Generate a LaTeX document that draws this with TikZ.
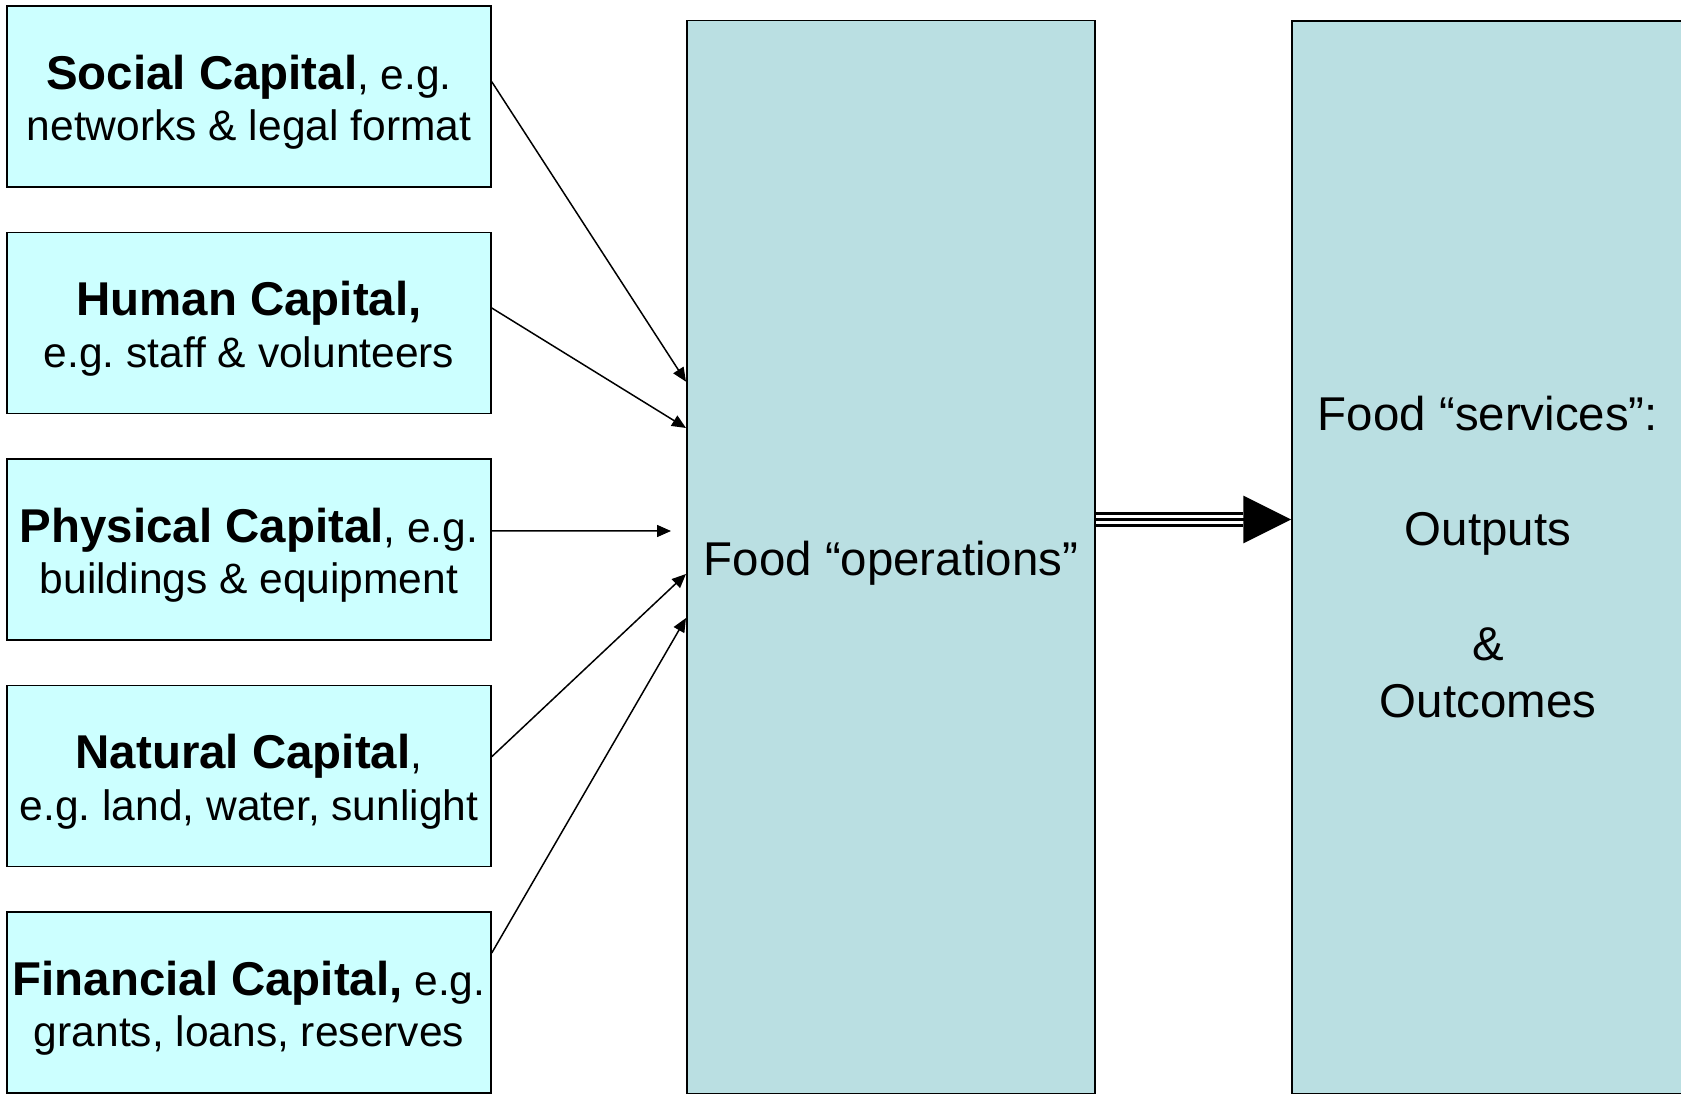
\documentclass[tikz,border=0pt]{standalone}
\usepackage{fontspec}
\setmainfont{Liberation Sans}
\usepackage{tikz}
\usetikzlibrary{arrows.meta,calc}
\frenchspacing
\definecolor{capfill}{HTML}{CCFFFF}
\definecolor{opsfill}{HTML}{BADFE2}
\newcommand{\capname}[1]{{\fontsize{27}{29.5}\selectfont\bfseries\rule{0pt}{26pt}#1}}
\tikzset{
capbox/.style={draw, line width=0.9pt, fill=capfill, minimum width=9.68cm, minimum height=3.62cm, inner sep=0pt, align=center, font=\fontsize{24.2}{29.5}\selectfont},
opsbox/.style={draw, line width=0.9pt, fill=opsfill, inner sep=0pt, align=center, font=\fontsize{27}{32.7}\selectfont}
}

\begin{document}
\begin{tikzpicture}[x=0.02cm, y=0.02cm, >={Triangle[length=0.28cm, width=0.24cm]}]
\useasboundingbox (0,0) rectangle (1681,1096); \clip (0,0) rectangle (1681,1096);
\node [capbox] (social) at (249,999.5) {\capname{Social Capital}, e.g.\\networks \& legal format};
\node [capbox] (human) at (249,773) {\capname{Human Capital,}\\e.g. staff \& volunteers};
\node [capbox] (physical) at (249,546.5) {\capname{Physical Capital}, e.g.\\buildings \& equipment};
\node [capbox] (natural) at (249,320) {\capname{Natural Capital},\\e.g. land, water, sunlight};
\node [capbox] (financial) at (249,93.5) {\capname{Financial Capital,} e.g.\\grants, loans, reserves};
\node [opsbox, minimum width=8.17cm, minimum height=21.47cm, text height=27pt] (ops) at (891,539) {Food “operations”};
\node [opsbox, minimum width=7.84cm, minimum height=21.45cm] (serv) at (1488,538.75) {Food “services”:\\[32.7pt]Outputs\\[32.7pt]\&\\Outcomes};
\draw [->, line width=0.85pt] ($(social.east)+(0,14.8)$) -- ($(ops.west)+(0,175.3)$);
\draw [->, line width=0.85pt] ($(human.east)+(0,15)$) -- ($(ops.west)+(0,129)$);
\draw [->, line width=0.85pt, shorten >=0.3cm] ($(physical.east)+(0,18.5)$) -- ($(ops.west)+(0,26)$);
\draw [->, line width=0.85pt] ($(natural.east)+(0,19.3)$) -- ($(ops.west)+(0,-17)$);
\draw [->, line width=0.85pt] ($(financial.east)+(0,49.5)$) -- ($(ops.west)+(0,-61)$);
\coordinate (tripa) at ($(ops.east)+(0,37.5)$); \coordinate (tripb) at (tripa -| serv.west);
\draw [line width=0.3cm, shorten >=0.96cm] (tripa) -- (tripb);
\draw [white, line width=0.18cm, shorten >=0.96cm] (tripa) -- (tripb);
\draw [-{Triangle[length=0.96cm, width=0.94cm]}, line width=0.06cm] (tripa) -- (tripb);
\end{tikzpicture}
\end{document}
